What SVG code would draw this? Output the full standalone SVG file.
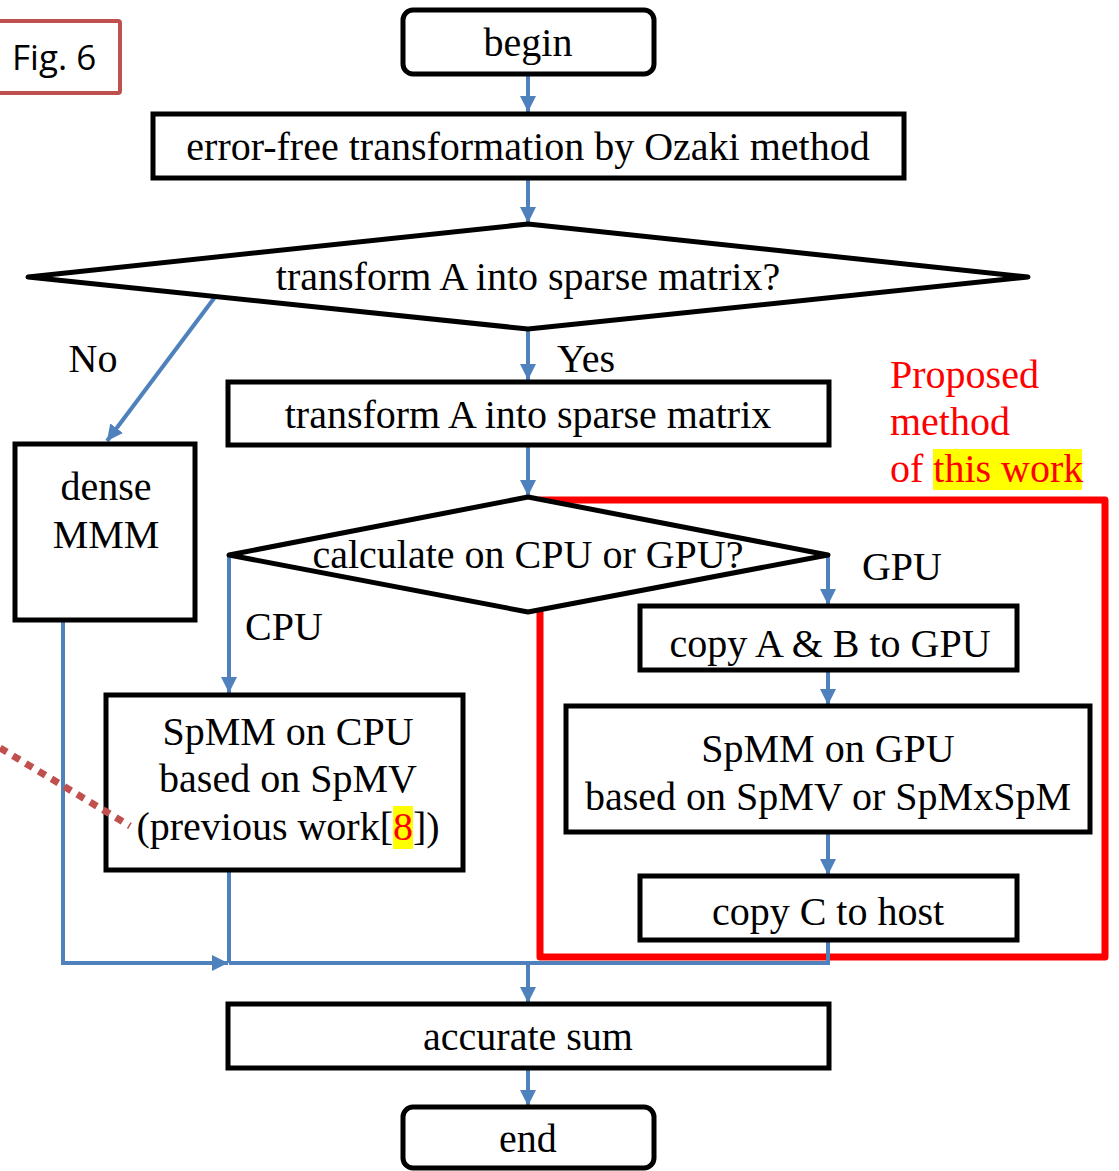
<svg xmlns="http://www.w3.org/2000/svg" width="1119" height="1171" viewBox="0 0 1119 1171">
<style>
.box{fill:#fff;stroke:#000;stroke-width:5}
.t{font-family:"Liberation Serif","Times New Roman",serif;font-size:40px;fill:#000;text-anchor:middle}
.c{fill:none;stroke:#4F81BD;stroke-width:4}
.red{font-family:"Liberation Serif","Times New Roman",serif;font-size:40px;fill:#FF0000}
</style>
<defs>
<marker id="ah" viewBox="0 0 10 10" refX="10" refY="5" markerWidth="4" markerHeight="4" orient="auto" markerUnits="strokeWidth">
<path d="M0,0 L10,5 L0,10 z" fill="#4F81BD"/>
</marker>
</defs>
<rect width="1119" height="1171" fill="#fff"/>

<g id="fig-label">
<rect x="-4" y="21" width="124" height="72" rx="2" fill="#fff" stroke="#C0504D" stroke-width="4"/>
<text x="12" y="70" font-family="Open Sans,'Liberation Sans',sans-serif" font-size="35" fill="#000">Fig. 6</text>
</g>

<g id="proposed-region">
<rect x="540" y="500" width="565" height="457" fill="none" stroke="#FF0000" stroke-width="7" stroke-linejoin="round"/>
<rect x="933" y="449" width="149" height="41" fill="#FFFF00"/>
<text class="red" x="890" y="388">Proposed</text>
<text class="red" x="890" y="435">method</text>
<text class="red" x="890" y="482">of this work</text>
</g>

<g id="connectors">
<line class="c" x1="528" y1="74" x2="528" y2="112" marker-end="url(#ah)"/>
<line class="c" x1="528" y1="178" x2="528" y2="223" marker-end="url(#ah)"/>
<line class="c" x1="215" y1="297" x2="107" y2="441" marker-end="url(#ah)"/>
<line class="c" x1="528" y1="329" x2="528" y2="380" marker-end="url(#ah)"/>
<line class="c" x1="528" y1="445" x2="528" y2="496" marker-end="url(#ah)"/>
<line class="c" x1="229" y1="555" x2="229" y2="693" marker-end="url(#ah)"/>
<line class="c" x1="828" y1="555" x2="828" y2="605" marker-end="url(#ah)"/>
<line class="c" x1="828" y1="670" x2="828" y2="705" marker-end="url(#ah)"/>
<line class="c" x1="828" y1="832" x2="828" y2="875" marker-end="url(#ah)"/>
<polyline class="c" points="63,620 63,963 228,963" marker-end="url(#ah)"/>
<line class="c" x1="229" y1="870" x2="229" y2="963"/>
<polyline class="c" points="828,940 828,963 229,963"/>
<line class="c" x1="528" y1="963" x2="528" y2="1003" marker-end="url(#ah)"/>
<line class="c" x1="528" y1="1068" x2="528" y2="1106" marker-end="url(#ah)"/>
</g>
<text x="93" y="372" class="t">No</text>
<text x="586" y="372" class="t">Yes</text>
<text x="284" y="640" class="t">CPU</text>
<text x="902" y="580" class="t">GPU</text>

<g id="begin">
<rect class="box" x="403" y="10" width="251" height="64" rx="10"/>
<text class="t" x="528" y="56">begin</text>
</g>
<g id="ozaki">
<rect class="box" x="153" y="114" width="751" height="64"/>
<text class="t" x="528" y="160">error-free transformation by Ozaki method</text>
</g>
<g id="decision-sparse">
<polygon class="box" points="28,277 528,224 1028,277 528,329" stroke-linejoin="round"/>
<text class="t" x="528" y="290">transform A into sparse matrix?</text>
</g>
<g id="transform-sparse">
<rect class="box" x="228" y="382" width="601" height="63"/>
<text class="t" x="528" y="428">transform A into sparse matrix</text>
</g>
<g id="dense-mmm">
<rect class="box" x="15" y="444" width="180" height="176"/>
<text class="t" x="106" y="500">dense</text>
<text class="t" x="106" y="548">MMM</text>
</g>
<g id="decision-device">
<polygon class="box" points="229,555 528,497 828,555 528,612" stroke-linejoin="round"/>
<text class="t" x="528" y="568">calculate on CPU or GPU?</text>
</g>
<g id="spmm-cpu">
<rect class="box" x="106" y="695" width="357" height="175"/>
<text class="t" x="288" y="745">SpMM on CPU</text>
<text class="t" x="288" y="792">based on SpMV</text>
<rect x="393" y="806" width="20" height="43" fill="#FFFF00"/>
<text class="t" x="288" y="840">(previous work[<tspan fill="#FF0000">8</tspan>])</text>
</g>
<g id="copy-ab">
<rect class="box" x="640" y="606" width="377" height="64"/>
<text class="t" x="830" y="657">copy A &amp; B to GPU</text>
</g>
<g id="spmm-gpu">
<rect class="box" x="566" y="706" width="524" height="126"/>
<text class="t" x="828" y="762">SpMM on GPU</text>
<text class="t" x="828" y="810">based on SpMV or SpMxSpM</text>
</g>
<g id="copy-c">
<rect class="box" x="640" y="876" width="377" height="64"/>
<text class="t" x="828" y="925">copy C to host</text>
</g>
<g id="accurate-sum">
<rect class="box" x="228" y="1004" width="601" height="64"/>
<text class="t" x="528" y="1050">accurate sum</text>
</g>
<g id="end">
<rect class="box" x="403" y="1107" width="251" height="61" rx="10"/>
<text class="t" x="528" y="1152">end</text>
</g>
<line x1="0" y1="748" x2="130" y2="826" stroke="#C0504D" stroke-width="7" stroke-dasharray="8,7"/>
</svg>
